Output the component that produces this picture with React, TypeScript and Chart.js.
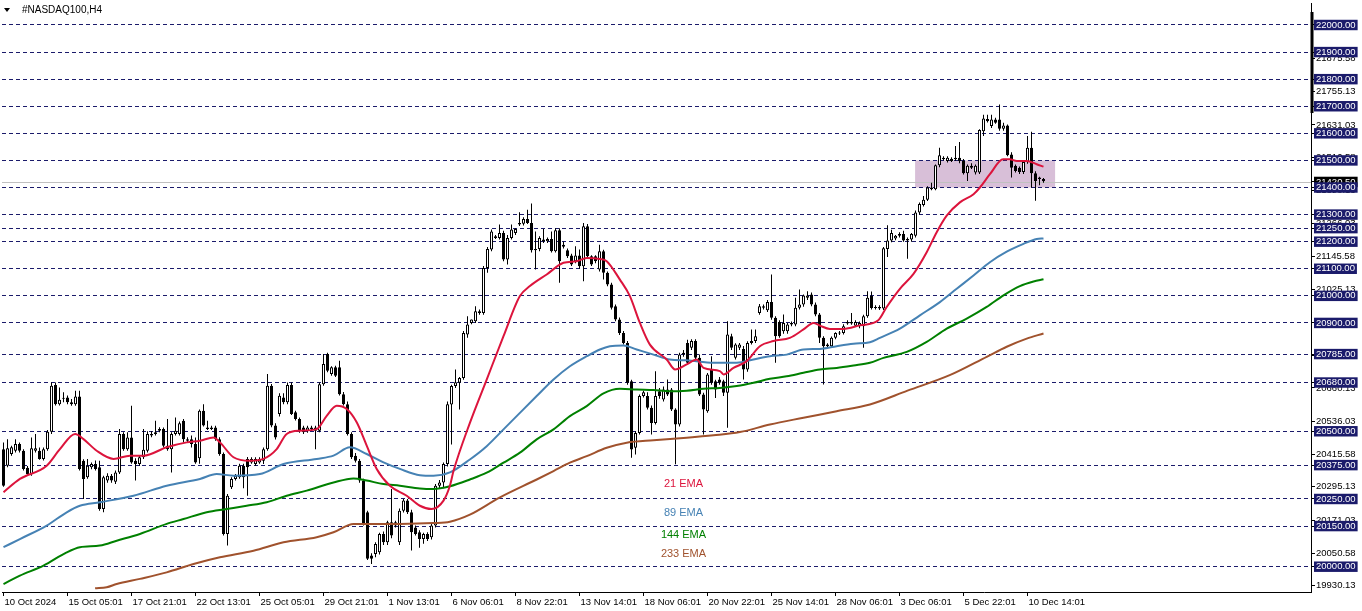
import React, { useEffect, useRef } from 'react';
import { Chart, registerables } from 'chart.js';

Chart.register(...registerables);

// ---------- candle data (H4 bars, index 0 = 10 Oct 2024) ----------
const openPrices: number[] = [
  20434,20373,20416,20428,20453,20428,20365,20342,20428,20428,
  20398,20434,20498,20671,20600,20620,20625,20607,20600,20628,
  20391,20330,20367,20379,20367,20213,20318,20336,20314,20348,
  20490,20434,20477,20391,20379,20404,20428,20484,20490,20508,
  20508,20447,20434,20490,20490,20539,20465,20471,20453,20400,
  20576,20514,20508,20514,20471,20416,20121,20293,20324,20330,
  20373,20398,20385,20379,20385,20391,20434,20668,20521,20564,
  20625,20607,20671,20570,20545,20514,20502,20508,20514,20502,
  20674,20785,20711,20736,20736,20637,20600,20490,20410,20391,
  20318,20201,20041,20047,20053,20121,20090,20164,20152,20090,
  20207,20244,20201,20145,20127,20102,20121,20109,20152,20299,
  20311,20379,20599,20667,20679,20697,20857,20900,20906,20943,
  20937,21103,21171,21214,21214,21232,21134,21214,21232,21263,
  21266,21284,21269,21173,21173,21208,21202,21210,21165,21242,
  21189,21168,21149,21128,21149,21109,21257,21146,21146,21097,
  21165,21085,21042,20962,20913,20863,20826,20685,20439,20494,
  20630,20630,20587,20531,20648,20617,20654,20654,20580,20525,
  20783,20826,20808,20833,20771,20636,20574,20728,20685,20691,
  20685,20642,20851,20771,20808,20804,20728,20826,20833,20937,
  20956,20947,20977,20919,20903,20869,20869,20894,20894,20956,
  20968,20993,21005,20968,20931,20845,20814,20814,20845,20861,
  20863,20898,20898,20890,20888,20888,20925,20999,20955,20953,
  20953,21173,21204,21212,21222,21228,21210,21208,21222,21308,
  21335,21355,21394,21394,21482,21510,21498,21506,21504,21510,
  21498,21453,21480,21455,21455,21608,21653,21627,21651,21651,
  21617,21629,21522,21480,21473,21457,21494,21547,21453,21437,
  21431,
];
const highPrices: number[] = [
  20459,20471,20447,20471,20459,20434,20372,20477,20490,20440,
  20440,20505,20680,20680,20662,20644,20632,20619,20650,20650,
  20397,20398,20385,20392,20391,20336,20345,20342,20355,20508,
  20496,20496,20594,20400,20410,20508,20500,20500,20539,20515,
  20514,20545,20496,20551,20536,20545,20478,20484,20477,20580,
  20600,20539,20520,20520,20478,20422,20268,20330,20342,20380,
  20380,20405,20404,20404,20404,20440,20711,20675,20530,20640,
  20640,20680,20680,20576,20551,20520,20520,20520,20520,20680,
  20785,20790,20740,20742,20760,20645,20610,20496,20420,20398,
  20325,20207,20050,20090,20125,20130,20170,20287,20170,20215,
  20250,20250,20210,20152,20135,20125,20127,20160,20305,20320,
  20385,20610,20672,20728,20700,20870,20925,20913,20962,20950,
  21110,21180,21245,21225,21263,21240,21225,21263,21250,21309,
  21290,21318,21341,21238,21220,21247,21215,21238,21250,21250,
  21200,21175,21155,21183,21171,21269,21265,21150,21150,21189,
  21170,21090,21048,20968,20920,20870,20833,20690,20500,20636,
  20650,20644,20595,20722,20660,20665,20691,20660,20585,20790,
  20800,20838,20840,20840,20783,20642,20715,20777,20690,20700,
  20690,20906,20860,20825,20826,20815,20832,20876,20876,20970,
  20968,20985,21079,20925,20910,20931,20900,20905,20993,21023,
  21005,21017,21012,20975,20937,20851,20825,20850,20866,20870,
  20895,20910,20937,20910,20905,20930,21017,21016,20965,20965,
  21180,21261,21244,21225,21235,21240,21215,21232,21315,21345,
  21369,21405,21418,21485,21547,21515,21515,21512,21553,21568,
  21505,21485,21490,21485,21615,21669,21669,21669,21658,21706,
  21639,21633,21530,21485,21478,21500,21590,21606,21460,21440,
  21435,
];
const lowPrices: number[] = [
  20295,20367,20410,20422,20422,20355,20336,20336,20422,20395,
  20392,20428,20490,20595,20595,20607,20600,20594,20594,20355,
  20250,20325,20360,20355,20207,20201,20310,20310,20305,20342,
  20428,20428,20380,20318,20372,20398,20422,20478,20484,20496,
  20440,20428,20348,20484,20484,20459,20459,20440,20380,20380,
  20518,20505,20505,20465,20410,20115,20078,20287,20318,20325,
  20290,20262,20380,20372,20380,20379,20428,20515,20470,20555,
  20600,20600,20560,20540,20495,20490,20495,20502,20434,20496,
  20668,20718,20705,20700,20632,20595,20484,20398,20385,20310,
  20152,20025,20010,20035,20045,20080,20080,20105,20145,20080,
  20200,20195,20060,20115,20070,20085,20095,20100,20145,20290,
  20290,20370,20451,20660,20580,20690,20845,20895,20900,20930,
  20930,21085,21165,21210,21208,21128,21116,21208,21225,21258,
  21260,21265,21160,21097,21165,21195,21195,21160,21160,21048,
  21175,21140,21110,21120,21100,21054,21140,21110,21120,21090,
  21060,21035,20950,20906,20855,20820,20672,20402,20414,20488,
  20625,20580,20488,20525,20620,20610,20630,20575,20378,20518,
  20775,20745,20800,20765,20630,20488,20568,20672,20623,20672,
  20630,20513,20800,20765,20800,20691,20720,20820,20826,20930,
  20950,20940,20912,20753,20845,20860,20860,20888,20888,20950,
  20960,20985,20962,20925,20826,20673,20808,20808,20840,20855,
  20857,20893,20893,20885,20880,20808,20919,20950,20950,20948,
  20948,21143,21198,21205,21215,21200,21137,21200,21215,21300,
  21330,21350,21390,21390,21475,21500,21492,21494,21498,21490,
  21448,21424,21468,21448,21450,21590,21640,21620,21635,21610,
  21610,21515,21437,21455,21450,21450,21488,21400,21351,21408,
  21418,
];
const closePrices: number[] = [
  20299,20437,20441,20453,20428,20361,20342,20437,20437,20398,
  20434,20498,20668,20600,20616,20623,20607,20600,20628,20361,
  20324,20373,20379,20361,20213,20330,20336,20318,20348,20490,
  20434,20477,20385,20379,20404,20432,20490,20490,20496,20502,
  20447,20434,20490,20502,20530,20471,20471,20453,20385,20576,
  20521,20508,20514,20471,20416,20121,20262,20324,20336,20373,
  20330,20367,20398,20398,20398,20434,20668,20521,20477,20631,
  20607,20671,20564,20545,20502,20496,20514,20514,20502,20674,
  20748,20723,20736,20705,20637,20600,20490,20404,20391,20318,
  20158,20029,20029,20084,20121,20090,20164,20115,20164,20207,
  20244,20201,20127,20121,20102,20121,20102,20152,20299,20311,
  20379,20600,20667,20681,20697,20863,20894,20913,20943,20937,
  21103,21173,21238,21220,21232,21134,21214,21245,21247,21269,
  21284,21269,21168,21168,21214,21202,21210,21165,21242,21128,
  21181,21146,21116,21149,21109,21257,21146,21116,21128,21165,
  21085,21042,20956,20913,20863,20826,20679,20433,20494,20630,
  20644,20587,20531,20630,20630,20654,20636,20580,20525,20783,
  20790,20753,20833,20771,20636,20580,20710,20679,20654,20679,
  20642,20857,20808,20820,20820,20728,20826,20833,20851,20962,
  20962,20977,20919,20851,20851,20900,20894,20900,20956,20968,
  21001,21001,20968,20931,20845,20814,20820,20845,20863,20863,
  20888,20903,20903,20903,20900,20925,20993,20955,20959,20959,
  21176,21204,21232,21222,21228,21204,21204,21228,21308,21339,
  21355,21400,21400,21482,21519,21504,21510,21498,21510,21498,
  21453,21480,21473,21480,21612,21655,21645,21651,21639,21617,
  21629,21519,21473,21461,21457,21494,21547,21453,21424,21431,
  21423,
];

// ---------- moving averages: [bar index, value] ----------
const ema21: [number, number][] = [
  [0,20275],[4.1,20324],[10.8,20373],[14.1,20434],[17.9,20490],[20,20471],[23.3,20428],[27.5,20398],
  [31.6,20410],[35,20410],[40.8,20441],[45.8,20459],[49.1,20465],[52.5,20477],[54.1,20459],[57.5,20404],
  [61.6,20391],[65,20398],[68.3,20434],[70.8,20490],[74.1,20502],[78.3,20508],[80.8,20557],[83.3,20594],
  [85.8,20582],[88.3,20533],[90.8,20447],[93.3,20361],[96.6,20299],[100.8,20262],[104.1,20225],[107,20213],
  [110,20244],[111.6,20299],[112.5,20353],[116.6,20531],[120.8,20691],[125,20851],[129.1,20999],[131.6,21036],
  [135.8,21079],[140,21122],[143.3,21128],[145.8,21140],[149.1,21136],[150.8,21128],[154.1,21060],[156.6,20999],
  [159.1,20900],[161.6,20820],[165.8,20765],[167.9,20728],[170.8,20747],[173.3,20765],[175,20734],[179.1,20722],
  [180,20710],[182.5,20734],[185.8,20759],[189.1,20814],[192.5,20833],[196.6,20845],[200,20876],[202.5,20900],
  [204.1,20890],[206.6,20878],[210,20878],[214.1,20891],[218.7,20910],[220.8,20959],[224.1,21026],[227.5,21081],
  [230.8,21161],[233.3,21235],[235.8,21296],[239.1,21345],[242.5,21375],[244.1,21400],[246.6,21449],[249.9,21504],
  [251.6,21504],[253.3,21498],[255.8,21498],[258.3,21486],[260,21477],
];
const ema89: [number, number][] = [
  [0,20072],[4.1,20102],[10.8,20152],[15.8,20201],[19.1,20225],[24.1,20238],[32.5,20262],[40.8,20299],
  [49.1,20324],[53.3,20342],[57.5,20336],[64.1,20342],[70,20379],[78.3,20398],[82.5,20410],[86.6,20441],
  [90.8,20416],[95,20385],[99.1,20361],[104.1,20338],[107.5,20336],[111.6,20348],[116.6,20396],[120.8,20445],
  [125,20507],[129.1,20568],[133.3,20630],[137.5,20691],[141.6,20740],[145.8,20777],[149.1,20802],[151.6,20814],
  [155,20817],[158.3,20802],[162.5,20783],[166.6,20765],[170.8,20762],[177.5,20753],[183.3,20753],[187.5,20765],
  [191.6,20777],[195.8,20783],[200,20802],[204.1,20804],[208.3,20814],[212.5,20823],[216.6,20829],[219.1,20845],
  [224.1,20879],[229.1,20928],[234.1,20977],[238.3,21026],[242.5,21075],[246.6,21124],[250.8,21163],[255,21192],
  [258.3,21210],[260,21212],
];
const ema144: [number, number][] = [
  [0,19936],[4.1,19967],[10,20004],[15.8,20053],[19.1,20072],[24.1,20078],[28.3,20096],[34.1,20121],
  [40.8,20158],[45,20176],[50.8,20201],[55.8,20213],[60.8,20225],[65.8,20238],[70.8,20262],[75.8,20281],
  [82.5,20311],[87.5,20326],[90.8,20318],[95,20305],[99.1,20299],[104.1,20289],[107.5,20287],[111.6,20297],
  [116.6,20322],[120.8,20347],[125,20384],[129.1,20421],[133.3,20470],[137.5,20507],[141.6,20556],[145.8,20593],
  [150,20640],[154.1,20657],[158.3,20654],[162.5,20652],[166.6,20648],[170.8,20650],[175,20657],[179.1,20660],
  [183.3,20667],[187.5,20679],[191.6,20694],[195.8,20703],[200,20716],[204.1,20728],[208.3,20734],[212.5,20743],
  [216.6,20753],[220,20771],[225.8,20793],[230.8,20830],[235.8,20879],[240.8,20916],[245.8,20959],[250,21002],
  [254.1,21036],[257.5,21053],[260,21061],
];
const ema233: [number, number][] = [
  [22.9,19920],[25.8,19924],[28.3,19936],[34.1,19955],[40.8,19979],[47.5,20010],[54.1,20035],[62.5,20059],
  [70,20090],[78.3,20109],[82.5,20127],[87.5,20158],[92.5,20158],[99.1,20158],[107.5,20161],[111.6,20166],
  [116.6,20192],[124,20255],[133.3,20322],[137.5,20353],[141.6,20384],[145.8,20408],[150.8,20439],[155.8,20458],
  [162.5,20467],[170.8,20476],[177.5,20485],[184.1,20497],[191.6,20525],[200,20550],[208.3,20574],[216.6,20599],
  [226,20650],[236.7,20708],[245.8,20775],[250.8,20812],[255.8,20842],[260,20861],
];

// ---------- axes / annotations ----------
const levelValues = [22000, 21900, 21800, 21700, 21600, 21500, 21400, 21300, 21250, 21200, 21100, 21000, 20900, 20785, 20680, 20500, 20375, 20250, 20150, 20000];
const axisTickValues = [21875.58, 21755.13, 21631.03, 21510.58, 21390.13, 21266.03, 21145.58, 21025.13, 20901.03, 20780.58, 20660.13, 20536.03, 20415.58, 20295.13, 20171.03, 20050.58, 19930.13];
const lastPrice = 21420.5;
const xTickBars = [0, 16, 32, 48, 64, 80, 96, 112, 128, 144, 160, 176, 192, 208, 224, 240, 256];
const xTickLabels = ['10 Oct 2024', '15 Oct 05:01', '17 Oct 21:01', '22 Oct 13:01', '25 Oct 05:01', '29 Oct 21:01', '1 Nov 13:01', '6 Nov 06:01', '8 Nov 22:01', '13 Nov 14:01', '18 Nov 06:01', '20 Nov 22:01', '25 Nov 14:01', '28 Nov 06:01', '3 Dec 06:01', '5 Dec 22:01', '10 Dec 14:01'];
const zoneBars = [227.9, 262.9];
const zoneValues = [21400, 21500];
const emaLabels = ['21 EMA', '89 EMA', '144 EMA', '233 EMA'];
const emaLabelValues = [20306, 20199, 20118, 20048];
const emaLabelBar = 170;
const scaleMarkerValues = [21675, 22048];

const NAVY = '#1b1b6b';
const EMA_COLORS = ['#dc143c', '#4682b4', '#008000', '#a0522d'];
const FONT = '"Liberation Sans", Arial, sans-serif';

const overlayPlugin = {
  id: 'mt4Overlay',
  beforeDraw(chart: any) {
    const { ctx, scales } = chart;
    const x = scales.x, y = scales.y;
    const x1 = x.getPixelForValue(zoneBars[0]);
    const x2 = x.getPixelForValue(zoneBars[1]);
    const y1 = y.getPixelForValue(zoneValues[1]);
    const y2 = y.getPixelForValue(zoneValues[0]);
    ctx.save();
    ctx.fillStyle = 'rgb(216,191,216)';
    ctx.fillRect(x1, y1, x2 - x1, y2 - y1);
    ctx.restore();
  },
  beforeDatasetsDraw(chart: any) {
    const { ctx, chartArea, scales } = chart;
    const yy = Math.round(scales.y.getPixelForValue(lastPrice)) + 0.5;
    ctx.save();
    ctx.strokeStyle = '#c0c0c0';
    ctx.lineWidth = 1;
    ctx.beginPath();
    ctx.moveTo(chartArea.left, yy);
    ctx.lineTo(chartArea.right, yy);
    ctx.stroke();
    ctx.restore();
  },
  afterDraw(chart: any) {
    const { ctx, chartArea, scales } = chart;
    const x = scales.x, y = scales.y;
    ctx.save();
    ctx.font = '11px ' + FONT;
    ctx.textAlign = 'center';
    ctx.textBaseline = 'middle';
    emaLabels.forEach((t, i) => {
      ctx.fillStyle = EMA_COLORS[i];
      ctx.fillText(t, x.getPixelForValue(emaLabelBar), y.getPixelForValue(emaLabelValues[i]));
    });
    const ya = y.getPixelForValue(scaleMarkerValues[1]);
    const yb = y.getPixelForValue(scaleMarkerValues[0]);
    ctx.fillStyle = '#000';
    ctx.fillRect(chartArea.right - 0.5, ya, 3, yb - ya);
    ctx.restore();
  },
};

export default function App() {
  const canvasRef = useRef<HTMLCanvasElement | null>(null);

  useEffect(() => {
    document.body.style.margin = '0';
    const canvas = canvasRef.current;
    if (!canvas) return;

    const idx = openPrices.map((_, i) => i);
    const wickData = idx.map((i) => ({ x: i, y: [lowPrices[i], highPrices[i]] }));
    const bodyData = idx.map((i) => ({
      x: i,
      y: [Math.min(openPrices[i], closePrices[i]), Math.max(openPrices[i], closePrices[i])],
    }));
    const lineDs = (pts: [number, number][], color: string) => ({
      type: 'line' as const,
      data: pts.map(([b, v]) => ({ x: b, y: v })),
      borderColor: color,
      borderWidth: 2,
      pointRadius: 0,
      cubicInterpolationMode: 'monotone' as const,
      fill: false,
      order: 0,
    });
    const levelSet = new Set(levelValues);

    const chart = new Chart(canvas, {
      type: 'bar',
      data: {
        datasets: [
          lineDs(ema21, EMA_COLORS[0]) as any,
          lineDs(ema89, EMA_COLORS[1]) as any,
          lineDs(ema144, EMA_COLORS[2]) as any,
          lineDs(ema233, EMA_COLORS[3]) as any,
          {
            type: 'bar',
            data: bodyData as any,
            backgroundColor: (c: any) => (closePrices[c.dataIndex] >= openPrices[c.dataIndex] ? '#ffffff' : '#000000'),
            borderColor: '#000000',
            borderWidth: 1,
            borderSkipped: false,
            barThickness: 3,
            grouped: false,
            minBarLength: 1,
            inflateAmount: 0,
            order: 1,
          } as any,
          {
            type: 'bar',
            data: wickData as any,
            backgroundColor: '#000000',
            borderWidth: 0,
            barThickness: 1,
            grouped: false,
            inflateAmount: 0,
            order: 2,
          } as any,
        ],
      },
      options: {
        responsive: false,
        maintainAspectRatio: false,
        devicePixelRatio: 1,
        animation: false,
        events: [],
        layout: { padding: { left: 2, top: 3, right: 0, bottom: 0 } },
        plugins: { legend: { display: false }, tooltip: { enabled: false }, title: { display: false } },
        scales: {
          x: {
            type: 'linear',
            min: -0.375,
            max: 326.875,
            bounds: 'data',
            offset: false,
            grid: { drawOnChartArea: false, drawTicks: true, tickLength: 4, tickColor: '#000', color: '#000', offset: false },
            border: { display: true, color: '#000', width: 1 },
            ticks: {
              autoSkip: false,
              maxRotation: 0,
              minRotation: 0,
              align: 'start',
              padding: 1,
              labelOffset: 1,
              color: '#000',
              font: { family: FONT, size: 9.5, lineHeight: 1.1 },
              callback: (v: any) => {
                const k = xTickBars.indexOf(Number(v));
                return k >= 0 ? xTickLabels[k] : '';
              },
            },
            afterBuildTicks: (s: any) => {
              s.ticks = xTickBars.map((v) => ({ value: v }));
            },
            afterFit: (s: any) => {
              s.height = 19;
              s.paddingLeft = 0;
              s.paddingRight = 0;
              s.paddingTop = 0;
              s.paddingBottom = 0;
            },
          } as any,
          y: {
            type: 'linear',
            position: 'right',
            min: 19906.6,
            max: 22081.2,
            bounds: 'data',
            grid: {
              drawOnChartArea: true,
              drawTicks: true,
              tickLength: 4,
              lineWidth: 1,
              tickColor: '#000',
              color: (c: any) => (c.tick && levelSet.has(c.tick.value) ? NAVY : 'rgba(0,0,0,0)'),
            },
            border: { display: true, color: '#000', width: 1, dash: [4, 3] },
            ticks: {
              autoSkip: false,
              padding: 1,
              crossAlign: 'near',
              font: { family: FONT, size: 9.5, lineHeight: 1.1 },
              color: (c: any) => (c.tick && (levelSet.has(c.tick.value) || c.tick.value === lastPrice) ? '#ffffff' : '#000000'),
              showLabelBackdrop: (c: any) => !!c.tick && (levelSet.has(c.tick.value) || c.tick.value === lastPrice),
              backdropColor: (c: any) => (c.tick && c.tick.value === lastPrice ? '#000000' : NAVY),
              backdropPadding: { left: 2, right: 2, top: 0, bottom: 0 },
              callback: (v: any) => Number(v).toFixed(2),
            },
            afterBuildTicks: (s: any) => {
              s.ticks = [...axisTickValues, lastPrice, ...levelValues].map((v) => ({ value: v }));
            },
            afterFit: (s: any) => {
              s.width = 51;
              s.paddingLeft = 0;
              s.paddingRight = 0;
              s.paddingTop = 0;
              s.paddingBottom = 0;
            },
          } as any,
        },
      },
      plugins: [overlayPlugin],
    });

    return () => chart.destroy();
  }, []);

  return (
    <div style={{ position: 'relative', width: 1362, height: 611, background: '#ffffff', overflow: 'hidden' }}>
      <canvas ref={canvasRef} width={1362} height={611} style={{ display: 'block', width: 1362, height: 611 }} />
      <div
        style={{
          position: 'absolute',
          left: 4,
          top: 4,
          font: '10px "Liberation Sans", Arial, sans-serif',
          lineHeight: '12px',
          color: '#000',
          whiteSpace: 'nowrap',
          display: 'flex',
          alignItems: 'center',
        }}
      >
        <span
          style={{
            display: 'inline-block',
            width: 0,
            height: 0,
            borderLeft: '3px solid transparent',
            borderRight: '3px solid transparent',
            borderTop: '4px solid #000',
            marginRight: 12,
          }}
        />
        <span>#NASDAQ100,H4</span>
      </div>
    </div>
  );
}
